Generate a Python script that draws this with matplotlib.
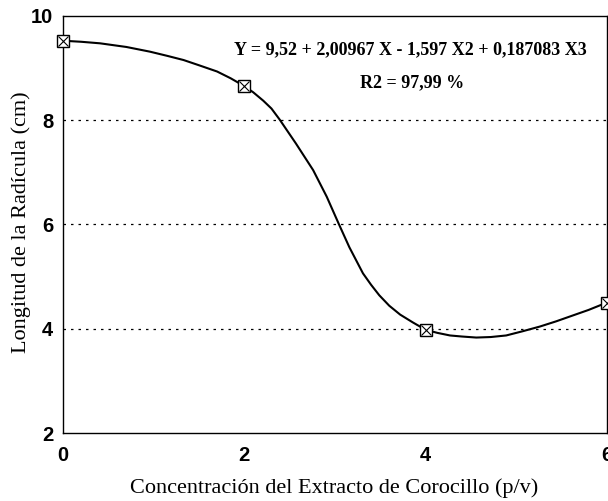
import matplotlib
matplotlib.use("Agg")
import matplotlib.pyplot as plt

# Datos medidos
conc = [0, 2, 4, 6]
longitud = [9.52, 8.65, 3.98, 4.50]

# Curva suavizada
curva_x = [0.0, 0.2, 0.41, 0.7, 0.96, 1.15, 1.33, 1.5, 1.70, 1.85, 2.0, 2.1, 2.21, 2.3,
           2.39, 2.57, 2.76, 2.91, 3.04, 3.16, 3.31, 3.4, 3.49, 3.6, 3.72, 3.86, 4.0,
           4.13, 4.27, 4.4, 4.56, 4.72, 4.89, 5.07, 5.26, 5.44, 5.62, 5.8, 6.0]
curva_y = [9.52, 9.50, 9.47, 9.40, 9.31, 9.23, 9.15, 9.05, 8.93, 8.80, 8.65, 8.53, 8.37,
           8.22, 8.01, 7.55, 7.04, 6.53, 6.02, 5.56, 5.06, 4.84, 4.64, 4.44, 4.27, 4.12,
           3.98, 3.92, 3.87, 3.85, 3.83, 3.84, 3.87, 3.95, 4.04, 4.14, 4.25, 4.36, 4.50]

x_ticks = [0, 2, 4, 6]
y_ticks = [2, 4, 6, 8, 10]
grid_y = [4, 6, 8]

fig = plt.figure(figsize=(6.08, 5.01), dpi=100)
ax = fig.add_axes([0.1036, 0.1357, 0.8944, 0.833])

ax.plot(curva_x, curva_y, color="black", lw=1.5, zorder=2,
        solid_joinstyle="round")
ax.plot(conc, longitud, ls="none", marker="s", ms=8.5, mfc="white", mec="black",
        mew=1.0, clip_on=False, zorder=3)
ax.plot(conc, longitud, ls="none", marker="x", ms=7.5, mec="black", mew=0.8,
        clip_on=False, zorder=4)

for g in grid_y:
    ax.axhline(g, color="black", lw=0.9, ls=(0, (2, 4)), zorder=1)

ax.set_xlim(0, 6)
ax.set_ylim(2, 10)
ax.set_xticks(x_ticks)
ax.set_yticks(y_ticks)
ax.tick_params(axis="x", length=0, pad=9)
ax.tick_params(axis="y", length=0, pad=7)
for lab in ax.get_xticklabels() + ax.get_yticklabels():
    lab.set_fontfamily("Liberation Sans")
    lab.set_fontweight("bold")
    lab.set_fontsize(14.5)

for s in ax.spines.values():
    s.set_linewidth(1.0)

ax.set_xlabel("Concentración del Extracto de Corocillo (p/v)", family="Liberation Serif",
              fontsize=16, va="center")
ax.xaxis.set_label_coords(0.498, -0.132)
ax.set_ylabel("Longitud de la Radícula (cm)", family="Liberation Serif",
              fontsize=16, va="center")
ax.yaxis.set_label_coords(-0.077, 0.504)

ax.text(3.83, 9.34, "Y = 9,52 + 2,00967 X - 1,597 X2 + 0,187083 X3", ha="center",
        va="center", family="Liberation Serif", fontweight="bold", fontsize=13)
ax.text(3.85, 8.71, "R2 = 97,99 %", ha="center", va="center",
        family="Liberation Serif", fontweight="bold", fontsize=13)

fig.savefig("out.png", dpi=100)
